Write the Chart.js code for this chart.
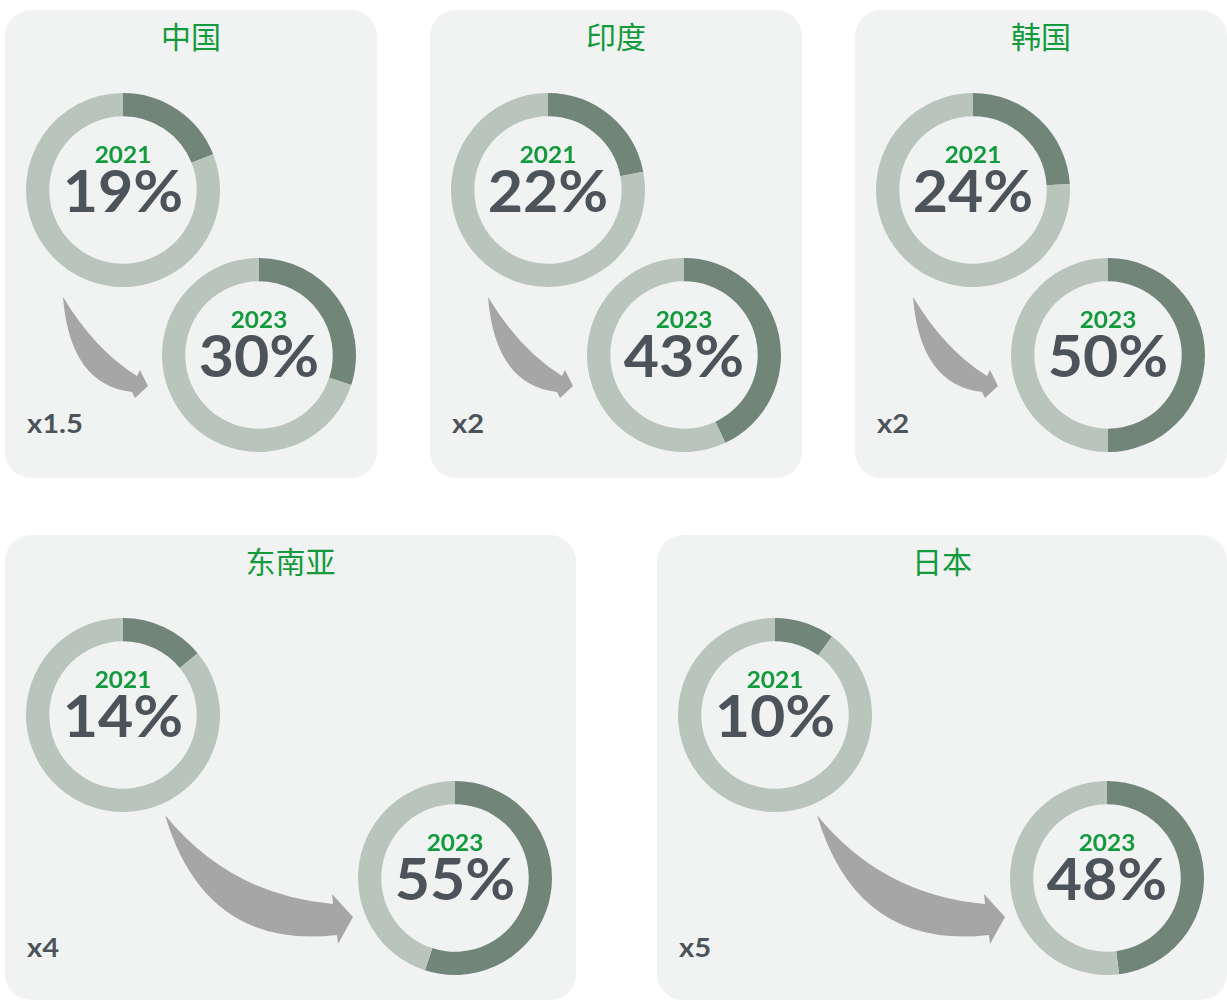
<!DOCTYPE html>
<html>
<head>
<meta charset="utf-8">
<script src="https://cdn.jsdelivr.net/npm/chart.js@4.4.1/dist/chart.umd.min.js"></script>
<style>
  html, body { margin: 0; padding: 0; background: #ffffff; }
  #wrap { position: relative; width: 1227px; height: 1001px; overflow: hidden; }
  .panel { position: absolute; background: #f1f3f2; border-radius: 26px; }
  .title { position: absolute; width: 100%; text-align: center; font-family: "Noto Sans CJK SC", sans-serif;
           font-size: 30px; line-height: 30px; color: #129a3c; }
  .ring { position: absolute; width: 200px; height: 200px; }
  .year { position: absolute; width: 200px; text-align: center; font-family: Lato, sans-serif; font-weight: 700;
          font-size: 23px; line-height: 23px; color: #129a3c; transform: scaleX(1.06); }
  .pct { position: absolute; width: 200px; text-align: center; font-family: Lato, sans-serif; font-weight: 700;
         font-size: 58px; line-height: 58px; color: #4d535a; letter-spacing: 0px; transform: scaleX(1.05); }
  .mult { position: absolute; font-family: Lato, sans-serif; font-weight: 700; font-size: 26px; line-height: 26px;
          color: #4d535a; transform: scaleX(1.12); transform-origin: left center; }
  svg.arrows { position: absolute; left: 0; top: 0; }
</style>
</head>
<body>
<div id="wrap"></div>
<script>
// -------------------------
// DATA
// -------------------------
const regions = ["中国", "印度", "韩国", "东南亚", "日本"];
const years = ["2021", "2023"];
const share2021 = [19, 22, 24, 14, 10];
const share2023 = [30, 43, 50, 55, 48];
const multipliers = ["x1.5", "x2", "x2", "x4", "x5"];

// -------------------------
// LAYOUT (panel boxes, ring centres relative to panel)
// -------------------------
const DARK = "#718679";
const LIGHT = "#b9c4bd";

const panels = [
  { x: 5,   y: 10,  w: 372, h: 468, c1: [118, 180], c2: [254, 345], tall: false },
  { x: 430, y: 10,  w: 372, h: 468, c1: [118, 180], c2: [254, 345], tall: false },
  { x: 855, y: 10,  w: 372, h: 468, c1: [118, 180], c2: [253, 345], tall: false },
  { x: 5,   y: 535, w: 571, h: 465, c1: [118, 180], c2: [450, 343], tall: true },
  { x: 657, y: 535, w: 570, h: 465, c1: [118, 180], c2: [450, 343], tall: true }
];

const wrap = document.getElementById("wrap");

function makeRing(panelEl, cx, cy, year, value) {
  const cv = document.createElement("canvas");
  cv.className = "ring";
  cv.width = 200;
  cv.height = 200;
  cv.style.left = (cx - 100) + "px";
  cv.style.top = (cy - 100) + "px";
  panelEl.appendChild(cv);

  new Chart(cv.getContext("2d"), {
    type: "doughnut",
    data: {
      labels: ["share", "rest"],
      datasets: [{
        data: [value, 100 - value],
        backgroundColor: [DARK, LIGHT],
        borderWidth: 0
      }]
    },
    options: {
      responsive: false,
      animation: false,
      radius: 97,
      cutout: 76,
      layout: { padding: 0 },
      plugins: { legend: { display: false }, tooltip: { enabled: false } }
    }
  });

  const y = document.createElement("div");
  y.className = "year";
  y.textContent = year;
  y.style.left = (cx - 100) + "px";
  y.style.top = (cy - 47) + "px";
  panelEl.appendChild(y);

  const p = document.createElement("div");
  p.className = "pct";
  p.textContent = value + "%";
  p.style.left = (cx - 100) + "px";
  p.style.top = (cy - 29) + "px";
  panelEl.appendChild(p);
}

// curved tapered arrow, coordinates relative to the panel
function arrowPath(tall) {
  if (!tall) {
    return "M58,287 Q90,340 132,366 L135,360 L143,376 L130,388 L127,382 Q65,375 58,287 Z";
  }
  return "M160,280 Q225,360 328,369 L327,359 L348,382 L333,409 L332,400 Q200,415 160,280 Z";
}

regions.forEach((name, i) => {
  const L = panels[i];
  const el = document.createElement("div");
  el.className = "panel";
  el.style.left = L.x + "px";
  el.style.top = L.y + "px";
  el.style.width = L.w + "px";
  el.style.height = L.h + "px";
  wrap.appendChild(el);

  const t = document.createElement("div");
  t.className = "title";
  t.textContent = name;
  t.style.top = "10px";
  el.appendChild(t);

  const svg = document.createElementNS("http://www.w3.org/2000/svg", "svg");
  svg.setAttribute("class", "arrows");
  svg.setAttribute("width", L.w);
  svg.setAttribute("height", L.h);
  const path = document.createElementNS("http://www.w3.org/2000/svg", "path");
  path.setAttribute("d", arrowPath(L.tall));
  path.setAttribute("fill", "#a6a6a6");
  svg.appendChild(path);
  el.appendChild(svg);

  makeRing(el, L.c1[0], L.c1[1], years[0], share2021[i]);
  makeRing(el, L.c2[0], L.c2[1], years[1], share2023[i]);

  const m = document.createElement("div");
  m.className = "mult";
  m.textContent = multipliers[i];
  m.style.left = "22px";
  m.style.top = (L.tall ? 399 : 400) + "px";
  el.appendChild(m);
});
</script>
</body>
</html>
